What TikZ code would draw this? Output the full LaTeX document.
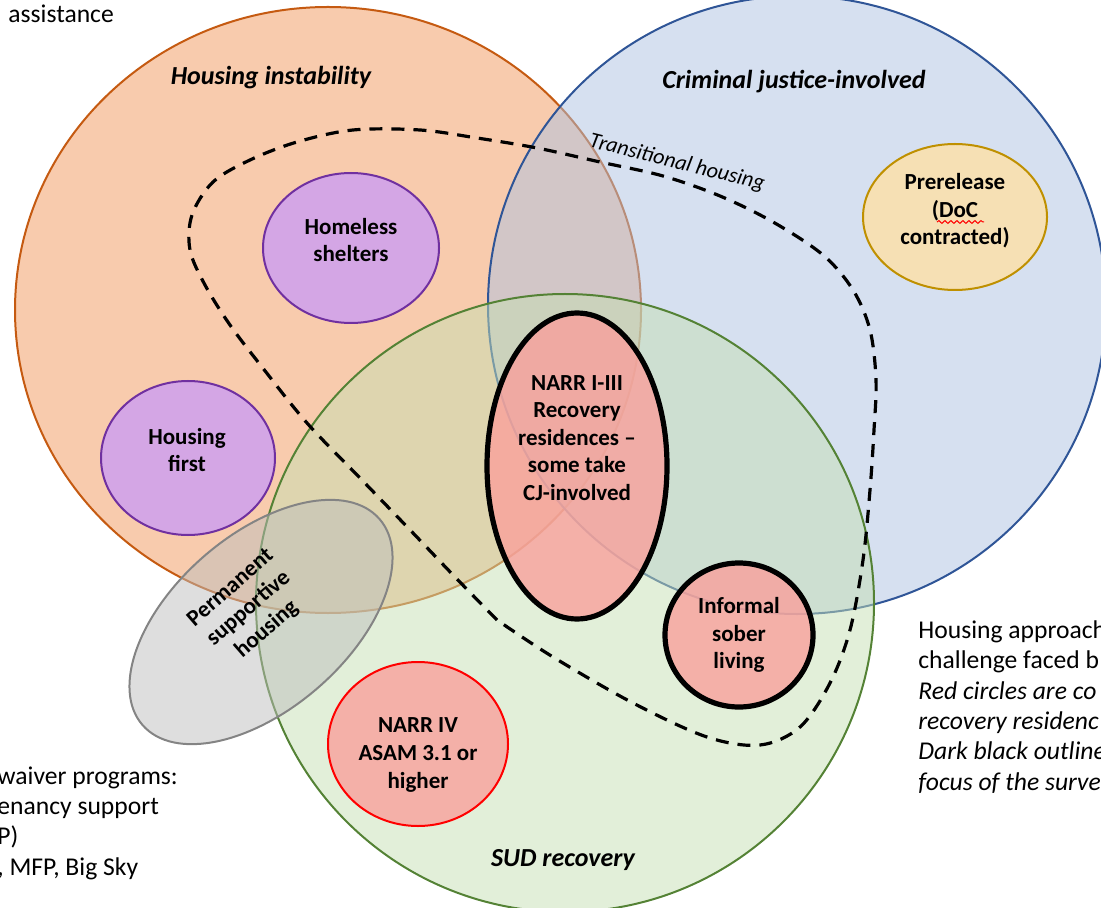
\documentclass[tikz,border=0pt]{standalone}
\usepackage{fontspec}
\setmainfont{Carlito}
\usetikzlibrary{shapes.geometric, positioning, decorations.pathmorphing}

\definecolor{orfill}{HTML}{F1975B}
\definecolor{orline}{HTML}{C55A11}
\definecolor{blfill}{HTML}{ADC1E1}
\definecolor{blline}{HTML}{2F5597}
\definecolor{grfill}{HTML}{C5DFB3}
\definecolor{grline}{HTML}{548235}
\definecolor{violfill}{HTML}{D4A6E5}
\definecolor{violline}{HTML}{7030A0}
\definecolor{prefill}{HTML}{F6E0B4}
\definecolor{preline}{HTML}{BF9000}
\definecolor{rosefill}{HTML}{F9A09C}
\definecolor{grisfill}{HTML}{BDBDBD}
\definecolor{grisline}{HTML}{848484}

\newcommand{\lbl}{\fontsize{11.5}{13.8}\selectfont\bfseries}
\newcommand{\ttl}{\fontsize{13}{15}\selectfont\bfseries\itshape}
\newcommand{\txt}{\fontsize{12.8}{15.2}\selectfont}

\begin{document}
\begin{tikzpicture}[x=0.5pt, y=-0.5pt,
    zone/.style={ellipse, draw, line width=1pt, fill opacity=0.5, inner sep=0pt},
    blob/.style={ellipse, draw, line width=1pt, inner sep=0pt},
    focus/.style={line width=2.6pt},
    lbl/.style={font=\lbl, align=center, inner sep=0pt},
    titre/.style={font=\ttl},
    marge/.style={anchor=west, font=\txt, align=left, inner sep=0pt}]
        % Cadre
        \clip (0,0) rectangle (1101,908);

        % Grands cercles
        \node[zone, draw=orline, fill=orfill, minimum width=313pt, minimum height=303pt] (instab) at (328,310) {};
        \node[zone, draw=blline, fill=blfill, minimum width=309pt, minimum height=309pt] (crim) at (797,305) {};
        \node[zone, draw=grline, fill=grfill, minimum width=309pt, minimum height=309pt] (sud) at (565,603) {};

        % Titres des cercles
        \node[titre] (tinstab) at (271,78) {Housing instability};
        \node[titre] (tcrim) at (794,82) {Criminal justice-involved};
        \node[titre] (tsud) at (563,860) {SUD recovery};

        % Ellipses violettes et prerelease
        \node[blob, draw=violline, fill=violfill, minimum width=88pt, minimum height=75pt] (shelter) at (351,248) {};
        \node[lbl] (tshelter) at (351,240) {Homeless\\shelters};
        \node[blob, draw=violline, fill=violfill, minimum width=87pt, minimum height=77pt] (hfirst) at (188,458) {};
        \node[lbl] (thfirst) at (187,450) {Housing\\first};
        \node[blob, draw=preline, fill=prefill, minimum width=92pt, minimum height=73pt] (prerel) at (955,217) {};
        \node[lbl] (tprerel) at (955,211) {Prerelease\\(DoC\\contracted)};

        % Logement permanent (ellipse grise)
        \node[blob, draw=grisline, fill=grisfill, fill opacity=0.5, rotate=41,
              minimum width=157pt, minimum height=87pt] (psh) at (261,622) {};
        \node[lbl, rotate=41] (tpsh) at (249,609) {Permanent\\supportive\\housing};

        % Residences de retablissement
        \node[blob, focus, draw=black, fill=rosefill, fill opacity=0.8, minimum width=90pt, minimum height=153pt] (narr) at (577,466) {};
        \node[lbl] (tnarr) at (577,438) {NARR I-III\\Recovery\\residences --\\some take\\CJ-involved};
        \node[blob, focus, draw=black, fill=rosefill, fill opacity=0.8, minimum width=74pt, minimum height=72pt] (sober) at (739,635) {};
        \node[lbl] (tsober) at (739,635) {Informal\\sober\\living};
        \node[blob, draw=red, fill=rosefill, fill opacity=0.8, minimum width=90pt, minimum height=82pt] (narriv) at (418,744) {};
        \node[lbl] (tnarriv) at (418,755) {NARR IV\\ASAM 3.1 or\\higher};

        % Logement transitoire (pointilles)
        \draw[dashed, line width=1.6pt, dash pattern=on 6.5pt off 4.5pt]
            plot[smooth, tension=0.55] coordinates {(497,620) (455,577) (413,533) (360,478) (307,423)
            (262,367) (230,325) (205,285) (190,250) (192,215) (213,182) (250,160) (297,142)
            (353,130) (420,130) (477,138) (537,148) (600,162) (663,176) (720,196) (773,222)
            (823,255) (853,290) (870,330) (876,380) (874,430) (870,490) (863,560) (850,630)
            (830,683) (800,727) (760,745) (707,737) (633,703) (553,657) (497,620)};
        \node[rotate=-14, font=\fontsize{11}{13}\selectfont\itshape] (ttrans) at (677,163) {Transitional housing};

        % Soulignement rouge sous DoC
        \coordinate (doca) at (937,222);
        \coordinate (docb) at (984,222);
        \draw[red, line width=0.5pt, decorate, decoration={snake, amplitude=0.7pt, segment length=3pt}] (doca) -- (docb);

        % Textes en marge
        \node[marge] (assist) at (8,14) {assistance};
        \node[marge] (waiver) at (-3,823) {waiver programs:\\enancy support\\P)\\, MFP, Big Sky};
        \node[marge] (legend) at (918,707) {Housing approach\\challenge faced b\\\textit{Red circles are co}\\\textit{recovery residenc}\\\textit{Dark black outline}\\\textit{focus of the surve}};

    \end{tikzpicture}
\end{document}
